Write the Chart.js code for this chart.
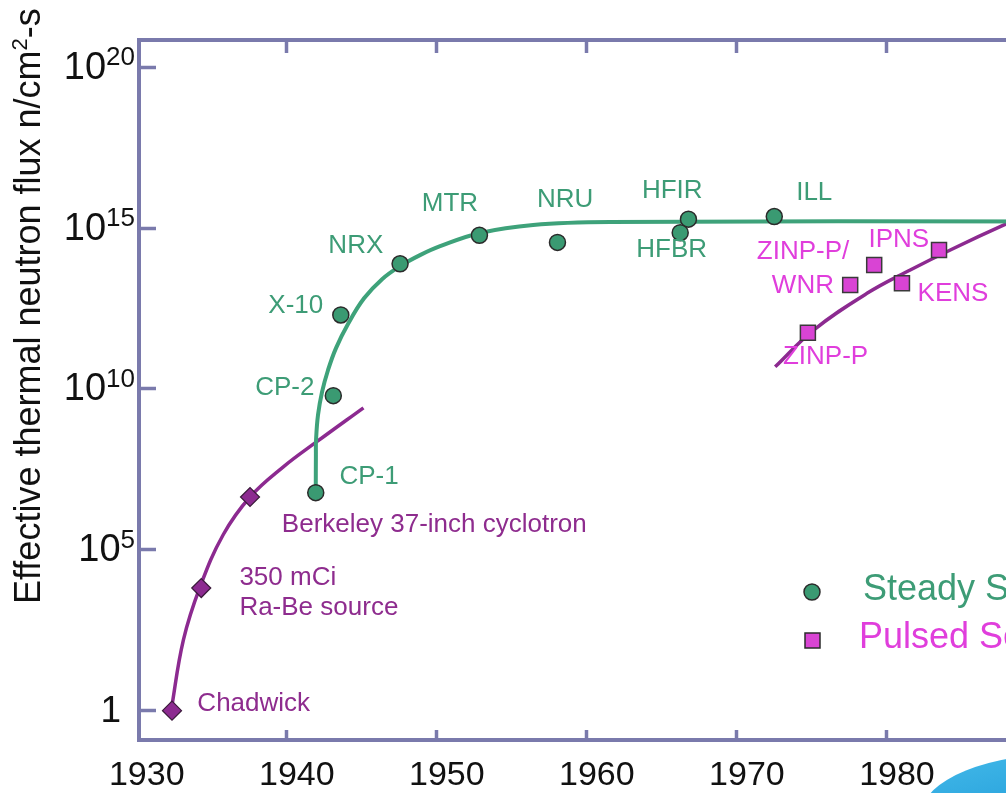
<!DOCTYPE html>
<html><head><meta charset="utf-8">
<script src="https://cdn.jsdelivr.net/npm/chart.js@4.4.1/dist/chart.umd.min.js"></script>
<style>
html,body{margin:0;padding:0;background:#fff;overflow:hidden;width:1006px;height:793px;}
#wrap{position:absolute;left:0;top:0;width:1080px;height:793px;}
#swoosh{position:absolute;left:922px;top:753px;width:260px;height:120px;border-top-left-radius:150px 60px;background:linear-gradient(165deg,#cdeefa 0%,#3db4e6 12%,#1f9ad8 60%,#1a8fd0 100%);}
</style></head><body>
<div id="wrap"><canvas id="c" width="1080" height="793"></canvas></div>
<div id="swoosh"></div>
<script>
// ---- data ----
const steadyNames = ['CP-1','CP-2','X-10','NRX','MTR','NRU','HFBR','HFIR','ILL'];
const steadyYears = [1941.93, 1943.1, 1943.6, 1947.55, 1952.84, 1958.04, 1966.22, 1966.77, 1972.49];
const steadyFlux  = [6.0e6, 6.2e9, 2.0e12, 7.8e13, 6.0e14, 3.6e14, 7.2e14, 1.9e15, 2.3e15];

const earlyNames = ['Chadwick','350 mCi Ra-Be source','Berkeley 37-inch cyclotron'];
const earlyYears = [1932.35, 1934.3, 1937.55];
const earlyFlux  = [1, 6.5e3, 4.4e6];

const pulsedNames = ['ZINP-P','ZINP-P/WNR','IPNS','KENS','IPNS (upgrade)'];
const pulsedYears = [1974.73, 1977.55, 1979.15, 1981.0, 1983.47];
const pulsedFlux  = [5.6e11, 1.7e13, 7.2e13, 1.95e13, 2.1e14];

const steadyTrendYears = [1941.93, 1941.94, 1941.95, 1942.08, 1942.35, 1942.75, 1943.28, 1944.08, 1945.15, 1946.35, 1947.55, 1948.88, 1950.22, 1952.88, 1956.42, 1961.55, 1992];
const steadyTrendFlux  = [6.3e6, 8.9e7, 2.6e8, 1.55e9, 8.1e9, 3.9e10, 1.87e11, 1.05e12, 6.6e12, 2.6e13, 6.6e13, 1.45e14, 2.75e14, 7.1e14, 1.26e15, 1.55e15, 1.62e15];

const earlyTrendYears = [1932.29, 1933.11, 1934.22, 1935.77, 1937.55, 1939.77, 1942.0, 1945.11];
const earlyTrendFlux  = [1, 1.6e2, 7.1e3, 3.0e5, 4.4e6, 3.8e7, 2.3e8, 2.6e9];

const pulsedTrendYears = [1972.55, 1975.11, 1978.67, 1981.55, 1984.22, 1987.95, 1991];
const pulsedTrendFlux  = [4.9e10, 6.8e11, 9.4e12, 5.0e13, 2.1e14, 1.35e15, 5.5e15];

const xTicks = [1930, 1940, 1950, 1960, 1970, 1980];
const yTicks = [1, 1e5, 1e10, 1e15, 1e20];
const yTickBase = ['1', '10', '10', '10', '10'];
const yTickExp  = ['', '5', '10', '15', '20'];

const labelTexts = ['Chadwick','350 mCi','Ra-Be source','Berkeley 37-inch cyclotron','CP-1','CP-2','X-10','NRX','MTR','NRU','HFIR','HFBR','ILL','ZINP-P/','WNR','IPNS','KENS','ZINP-P'];
const labelYears = [1934.04,1936.84,1936.84,1939.67,1943.51,1937.89,1938.77,1942.77,1949.0,1956.67,1963.67,1963.29,1973.95,1971.33,1972.33,1978.77,1982.04,1973.07];
const labelFlux  = [1.6,1.33e4,1.55e3,6.2e5,1.8e7,1.07e10,3.8e12,2.9e14,5.6e15,7.4e15,1.4e16,2.1e14,1.23e16,1.8e14,1.66e13,4.2e14,8.9e12,1.02e11];
const labelGroup = ['early','early','early','early','steady','steady','steady','steady','steady','steady','steady','steady','steady','pulsed','pulsed','pulsed','pulsed','pulsed'];

// ---- styles ----
const FONT = '"Liberation Sans", Arial, Helvetica, sans-serif';
const AX = '#7a7aac';
const GREEN = '#3a9a72';
const GREEN_LINE = '#3ea27a';
const GREEN_TXT = '#3d9c76';
const PURPLE = '#8c2a90';
const PURPLE_TXT = '#8e2c8e';
const PINK = '#d944d4';
const PINK_TXT = '#e03edc';
const groupColor = {early: PURPLE_TXT, steady: GREEN_TXT, pulsed: PINK_TXT};

Chart.defaults.font.family = FONT;

const pts = (xs, ys) => xs.map((x, i) => ({x: x, y: ys[i]}));
const X_MIN = 1930.15, X_MAX = 1992, Y_MIN = 0.1227, Y_MAX = 7.06e20;

const overlay = {
  id: 'overlay',
  afterDraw(chart) {
    const ctx = chart.ctx;
    const xs = chart.scales.x, ys = chart.scales.y;
    ctx.save();
    // y tick labels with superscript exponents
    ctx.fillStyle = '#111';
    ctx.textBaseline = 'middle';
    ctx.textAlign = 'right';
    yTicks.forEach((v, i) => {
      const py = ys.getPixelForValue(v);
      if (!yTickExp[i]) {
        ctx.font = '37px ' + FONT;
        ctx.fillText(yTickBase[i], 121, py + 1);
        return;
      }
      ctx.font = '26px ' + FONT;
      const ew = ctx.measureText(yTickExp[i]).width;
      ctx.fillText(yTickExp[i], 135, py - 9);
      ctx.font = '38px ' + FONT;
      ctx.fillText(yTickBase[i], 135 - ew, py + 1);
    });
    // y axis title
    ctx.save();
    ctx.translate(40, 604);
    ctx.rotate(-Math.PI / 2);
    ctx.textAlign = 'left';
    ctx.textBaseline = 'alphabetic';
    ctx.fillStyle = '#111';
    ctx.font = '36px ' + FONT;
    const t1 = 'Effective thermal neutron flux n/cm';
    ctx.fillText(t1, 0, 0);
    let w = ctx.measureText(t1).width;
    ctx.font = '22px ' + FONT;
    ctx.fillText('2', w, -13);
    w += ctx.measureText('2').width;
    ctx.font = '36px ' + FONT;
    ctx.fillText('-s', w, 0);
    ctx.restore();
    // annotations
    ctx.font = '26px ' + FONT;
    ctx.textAlign = 'left';
    ctx.textBaseline = 'middle';
    labelTexts.forEach((t, i) => {
      ctx.fillStyle = groupColor[labelGroup[i]];
      ctx.fillText(t, xs.getPixelForValue(labelYears[i]), ys.getPixelForValue(labelFlux[i]));
    });
    // legend
    ctx.font = '36px ' + FONT;
    ctx.lineWidth = 1.5;
    ctx.strokeStyle = '#2b2b2b';
    ctx.fillStyle = GREEN;
    ctx.beginPath(); ctx.arc(812, 592, 8, 0, Math.PI * 2); ctx.fill(); ctx.stroke();
    ctx.fillStyle = GREEN_TXT;
    ctx.fillText('Steady State Sources', 863, 590);
    ctx.fillStyle = PINK;
    ctx.fillRect(805, 633, 15, 15); ctx.strokeRect(805, 633, 15, 15);
    ctx.fillStyle = PINK_TXT;
    ctx.fillText('Pulsed Sources', 859, 638);
    ctx.restore();
  }
};

const fixTicks = (list) => (s) => { s.ticks = list.map(v => ({value: v})); };

new Chart(document.getElementById('c'), {
  type: 'line',
  data: {
    datasets: [
      {label: 'Steady sources', data: pts(steadyYears, steadyFlux), showLine: false, pointStyle: 'circle', pointRadius: 8, pointBackgroundColor: GREEN, pointBorderColor: '#2b2b2b', pointBorderWidth: 1.5, order: 0},
      {label: 'Early sources', data: pts(earlyYears, earlyFlux), showLine: false, pointStyle: 'rectRot', pointRadius: 9.5, pointBackgroundColor: PURPLE, pointBorderColor: '#3a1a3a', pointBorderWidth: 1.2, order: 0},
      {label: 'Pulsed sources', data: pts(pulsedYears, pulsedFlux), showLine: false, pointStyle: 'rect', pointRadius: 10.6, pointBackgroundColor: PINK, pointBorderColor: '#3a3a3a', pointBorderWidth: 1.5, order: 0},
      {label: 'Steady trend', data: pts(steadyTrendYears, steadyTrendFlux), borderColor: GREEN_LINE, borderWidth: 4, pointRadius: 0, tension: 0.4, fill: false, order: 1},
      {label: 'Early trend', data: pts(earlyTrendYears, earlyTrendFlux), borderColor: PURPLE, borderWidth: 3.5, pointRadius: 0, tension: 0.4, fill: false, order: 2},
      {label: 'Pulsed trend', data: pts(pulsedTrendYears, pulsedTrendFlux), borderColor: PURPLE, borderWidth: 3.5, pointRadius: 0, tension: 0.4, fill: false, order: 1}
    ]
  },
  options: {
    responsive: false,
    animation: false,
    devicePixelRatio: 1,
    layout: {padding: {left: 0, top: 40, right: 13, bottom: 0}},
    plugins: {legend: {display: false}, tooltip: {enabled: false}},
    scales: {
      x: {
        type: 'linear', position: 'bottom', min: X_MIN, max: X_MAX,
        afterBuildTicks: fixTicks(xTicks),
        afterFit: (s) => { s.height = 53; },
        grid: {drawOnChartArea: false, tickLength: -10, tickWidth: 3.5,
               tickColor: (c) => (c.tick && c.tick.value < X_MIN) ? 'rgba(0,0,0,0)' : AX},
        border: {color: AX, width: 4},
        ticks: {autoSkip: false, maxRotation: 0, minRotation: 0, font: {size: 34}, color: '#111', padding: 25, labelOffset: 10, callback: (v) => String(v)}
      },
      x2: {
        type: 'linear', position: 'top', min: X_MIN, max: X_MAX,
        afterBuildTicks: fixTicks(xTicks.slice(1).concat([1990])),
        afterFit: (s) => { s.height = 0; },
        grid: {drawOnChartArea: false, tickLength: -13, tickWidth: 3.5, tickColor: AX},
        border: {color: AX, width: 4},
        ticks: {display: false}
      },
      y: {
        type: 'logarithmic', position: 'left', min: Y_MIN, max: Y_MAX,
        afterBuildTicks: fixTicks(yTicks),
        afterFit: (s) => { s.width = 139; },
        grid: {drawOnChartArea: false, tickLength: -17, tickWidth: 3.5, tickColor: AX},
        border: {color: AX, width: 4},
        ticks: {display: false}
      },
      y2: {
        type: 'logarithmic', position: 'right', min: Y_MIN, max: Y_MAX,
        afterBuildTicks: fixTicks(yTicks),
        afterFit: (s) => { s.width = 0; },
        grid: {drawOnChartArea: false, tickLength: -17, tickWidth: 3.5, tickColor: AX},
        border: {color: AX, width: 4},
        ticks: {display: false}
      }
    }
  },
  plugins: [overlay]
});
</script>
</body></html>
